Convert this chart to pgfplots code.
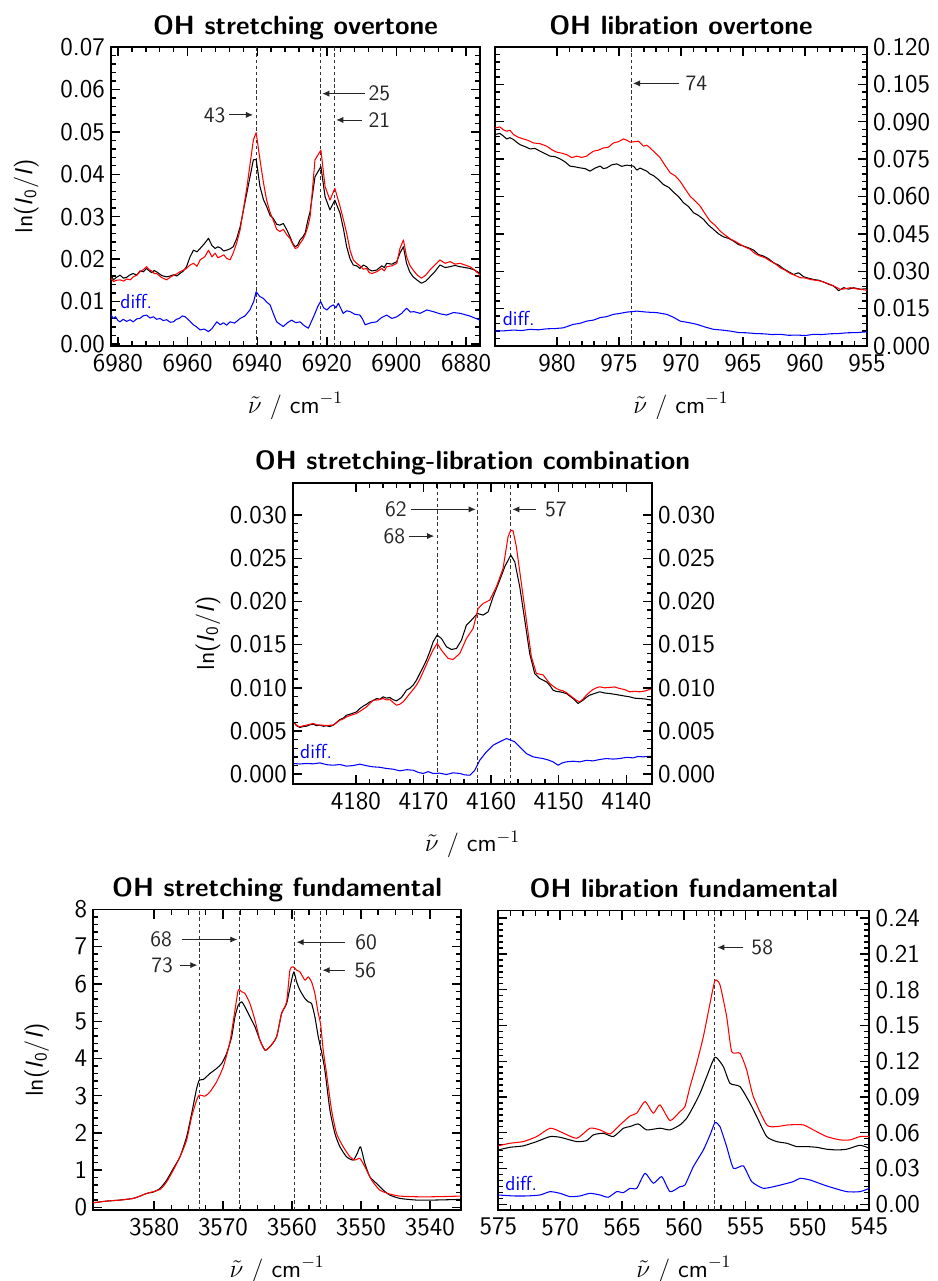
\documentclass[border=0pt]{standalone}
\usepackage{pgfplots}
\pgfplotsset{compat=1.18}
\usetikzlibrary{arrows.meta}

\pgfplotsset{
  spec/.style={
    scale only axis, anchor=north west, x dir=reverse,
    axis line style={line width=1.1pt},
    every tick/.style={black, line width=0.8pt},
    major tick length=0.18cm, minor tick length=0.1cm,
    tick align=inside, xtick pos=both, ytick pos=both, xticklabel pos=lower,
    tick label style={font=\sffamily\fontsize{14.5}{16}\selectfont},
    xticklabel style={yshift=-0.04cm},
    scaled ticks=false,
    /pgf/number format/assume math mode=true,
    /pgf/number format/1000 sep={},
    every axis title/.style={at={(0.5,1)}, anchor=base, yshift=0.26cm,
      font=\sffamily\bfseries\fontsize{15}{18}\selectfont},
    every axis x label/.style={at={(0.5,0)}, anchor=base, yshift=-1.34cm,
      font=\sffamily\fontsize{14}{16}\selectfont},
    xlabel={$\tilde{\nu}$ / cm$^{-1}$},
  },
  ylab/.style={
    every axis y label/.style={at={(axis description cs:#1,0.5)}, rotate=90,
      anchor=center, font=\sffamily\fontsize{14}{16}\selectfont},
    ylabel={ln(\textit{I}\textsubscript{0}/\textit{I})},
  },
  blk/.style={black, line width=0.6pt, line join=round},
  rd/.style={red, line width=0.6pt, line join=round},
  bl/.style={blue, line width=0.6pt, line join=round},
  sm/.style={smooth, tension=0.35},
  vl/.style={black!80, line width=0.5pt, dash pattern=on 2pt off 1.5pt},
}
\tikzset{
  arr/.style={black!85, line width=0.5pt, -{Latex[length=4pt,width=3.5pt]}},
  ann/.style={black!85, font=\sffamily\fontsize{12.5}{14}\selectfont, inner sep=1pt},
  dif/.style={blue, anchor=west, font=\sffamily\fontsize{11.5}{13}\selectfont, inner sep=0pt},
}

\begin{document}
\begin{tikzpicture}
\path[use as bounding box] (0,0) rectangle (18.76,-25.62);

% ---------------- OH stretching overtone
\begin{axis}[spec, ylab=-0.23, at={(2.22cm,-0.94cm)}, width=7.38cm, height=5.98cm,
  xmin=6876, xmax=6982, ymin=-0.0005, ymax=0.07,
  xtick={6880,6900,6920,6940,6960,6980}, minor x tick num=4,
  ytick={0,0.01,0.02,0.03,0.04,0.05,0.06,0.07}, minor y tick num=4,
  yticklabel style={/pgf/number format/.cd, fixed, fixed zerofill, precision=2},
  title={OH stretching overtone}]
\addplot[vl] coordinates {(6940.3,-0.0005) (6940.3,0.07)};
\addplot[vl] coordinates {(6921.7,-0.0005) (6921.7,0.07)};
\addplot[vl] coordinates {(6917.7,-0.0005) (6917.7,0.07)};
\addplot[blk] coordinates {
(6982.0,0.0162) (6981.3,0.0151) (6980.4,0.0157) (6979.4,0.0162) (6978.4,0.0155) (6977.5,0.0157)
(6976.5,0.0163) (6975.6,0.0166) (6974.6,0.0162) (6973.7,0.0172) (6972.7,0.0170) (6971.8,0.0178)
(6971.0,0.0172) (6970.3,0.0168) (6969.6,0.0173) (6968.9,0.0170) (6967.4,0.0161) (6966.0,0.0158)
(6965.0,0.0160) (6964.0,0.0163) (6963.1,0.0160) (6962.2,0.0166) (6961.2,0.0172) (6960.3,0.0182)
(6959.3,0.0205) (6958.3,0.0221) (6957.3,0.0217) (6956.4,0.0225) (6955.0,0.0238) (6954.0,0.0249)
(6953.0,0.0232) (6952.1,0.0225) (6951.3,0.0229) (6950.5,0.0226) (6949.6,0.0219) (6948.8,0.0221)
(6947.8,0.0224) (6946.9,0.0229) (6945.9,0.0248) (6944.9,0.0276) (6943.0,0.0355) (6941.1,0.0434)
(6940.3,0.0435) (6939.2,0.0371) (6938.2,0.0340) (6937.3,0.0324) (6936.3,0.0303) (6935.4,0.0296)
(6934.4,0.0282) (6933.5,0.0280) (6932.5,0.0284) (6931.5,0.0269) (6930.6,0.0253) (6929.8,0.0237)
(6929.1,0.0229) (6928.4,0.0233) (6927.7,0.0245) (6926.9,0.0252) (6926.2,0.0262) (6925.5,0.0290)
(6924.8,0.0312) (6923.4,0.0394) (6921.7,0.0418) (6920.5,0.0347) (6919.1,0.0316) (6917.7,0.0339)
(6916.2,0.0308) (6915.2,0.0270) (6914.3,0.0229) (6913.3,0.0200) (6912.4,0.0186) (6911.4,0.0184)
(6910.5,0.0178) (6909.5,0.0186) (6908.6,0.0182) (6907.8,0.0175) (6907.0,0.0172) (6905.7,0.0174)
(6904.2,0.0184) (6903.5,0.0180) (6902.8,0.0190) (6901.3,0.0188) (6899.9,0.0194) (6899.0,0.0214)
(6898.0,0.0229) (6897.1,0.0190) (6896.2,0.0170) (6895.2,0.0158) (6894.0,0.0150) (6892.8,0.0143)
(6891.6,0.0148) (6890.4,0.0158) (6889.0,0.0170) (6887.5,0.0186) (6886.0,0.0180) (6884.6,0.0182)
(6883.2,0.0185) (6881.7,0.0182) (6880.3,0.0180) (6878.9,0.0178) (6877.5,0.0174) (6876.0,0.0166)};
\addplot[rd] coordinates {
(6982.0,0.0155) (6981.3,0.0147) (6980.4,0.0150) (6979.4,0.0151) (6978.4,0.0148) (6977.5,0.0153)
(6976.5,0.0151) (6975.6,0.0158) (6974.6,0.0162) (6973.7,0.0170) (6972.7,0.0175) (6971.8,0.0182)
(6971.0,0.0175) (6970.3,0.0172) (6969.6,0.0166) (6968.9,0.0166) (6967.4,0.0156) (6966.0,0.0151)
(6965.0,0.0157) (6964.0,0.0162) (6963.1,0.0165) (6962.2,0.0170) (6961.2,0.0174) (6960.3,0.0178)
(6959.3,0.0186) (6958.3,0.0190) (6957.3,0.0183) (6956.4,0.0198) (6955.0,0.0206) (6954.0,0.0221)
(6953.0,0.0205) (6952.1,0.0214) (6951.3,0.0203) (6950.5,0.0206) (6949.6,0.0210) (6948.8,0.0202)
(6947.8,0.0198) (6946.9,0.0214) (6945.9,0.0238) (6944.9,0.0269) (6943.0,0.0367) (6941.1,0.0481)
(6940.3,0.0498) (6939.2,0.0434) (6938.2,0.0380) (6937.3,0.0339) (6936.3,0.0310) (6935.4,0.0292)
(6934.4,0.0270) (6933.5,0.0265) (6932.5,0.0270) (6931.5,0.0257) (6930.6,0.0249) (6929.8,0.0235)
(6929.1,0.0225) (6928.4,0.0227) (6927.7,0.0237) (6926.9,0.0246) (6926.2,0.0258) (6925.5,0.0275)
(6924.8,0.0300) (6923.4,0.0434) (6921.7,0.0457) (6920.5,0.0371) (6919.1,0.0339) (6917.7,0.0367)
(6916.2,0.0324) (6915.2,0.0292) (6914.3,0.0261) (6913.3,0.0220) (6912.4,0.0198) (6911.4,0.0190)
(6910.5,0.0184) (6909.5,0.0176) (6908.6,0.0178) (6907.8,0.0168) (6907.0,0.0166) (6905.7,0.0170)
(6904.2,0.0178) (6903.5,0.0172) (6902.8,0.0182) (6901.3,0.0184) (6899.9,0.0190) (6899.0,0.0225)
(6898.0,0.0245) (6897.1,0.0206) (6896.2,0.0186) (6895.2,0.0174) (6894.0,0.0162) (6892.8,0.0155)
(6891.6,0.0162) (6890.4,0.0174) (6889.0,0.0186) (6887.5,0.0198) (6886.0,0.0190) (6884.6,0.0194)
(6883.2,0.0188) (6881.7,0.0190) (6880.3,0.0186) (6878.9,0.0182) (6877.5,0.0174) (6876.0,0.0162)};
\addplot[bl] coordinates {
(6982.0,0.0068) (6981.3,0.0060) (6980.7,0.0064) (6980.0,0.0055) (6979.4,0.0052) (6978.5,0.0058)
(6977.5,0.0053) (6976.5,0.0057) (6975.6,0.0052) (6974.6,0.0059) (6973.7,0.0060) (6972.8,0.0066)
(6971.8,0.0068) (6970.8,0.0061) (6969.8,0.0064) (6968.9,0.0058) (6967.9,0.0060) (6967.0,0.0055)
(6966.0,0.0057) (6965.0,0.0051) (6964.1,0.0052) (6963.2,0.0058) (6962.4,0.0060) (6961.5,0.0066)
(6960.7,0.0064) (6959.5,0.0055) (6958.3,0.0045) (6957.4,0.0040) (6956.4,0.0033) (6955.2,0.0035)
(6954.0,0.0029) (6953.0,0.0036) (6951.6,0.0052) (6950.6,0.0045) (6949.7,0.0050) (6948.8,0.0044)
(6947.8,0.0052) (6946.5,0.0049) (6944.9,0.0060) (6943.5,0.0066) (6942.1,0.0080) (6941.0,0.0100)
(6940.3,0.0123) (6939.3,0.0112) (6938.2,0.0107) (6937.2,0.0098) (6936.3,0.0092) (6935.3,0.0070)
(6934.4,0.0052) (6933.4,0.0046) (6932.5,0.0041) (6931.3,0.0050) (6930.1,0.0056) (6928.9,0.0050)
(6927.7,0.0052) (6926.5,0.0043) (6925.3,0.0037) (6924.3,0.0055) (6923.4,0.0072) (6922.6,0.0088)
(6921.8,0.0100) (6920.9,0.0085) (6920.0,0.0080) (6919.0,0.0088) (6918.1,0.0092) (6917.4,0.0085)
(6916.7,0.0096) (6916.0,0.0084) (6915.3,0.0072) (6914.3,0.0078) (6913.3,0.0076) (6912.0,0.0070)
(6910.5,0.0068) (6909.7,0.0058) (6909.0,0.0045) (6907.3,0.0050) (6905.7,0.0052) (6904.3,0.0062)
(6902.8,0.0068) (6901.3,0.0060) (6899.9,0.0064) (6898.5,0.0072) (6897.1,0.0084) (6896.0,0.0075)
(6895.0,0.0076) (6893.2,0.0072) (6891.3,0.0080) (6889.4,0.0076) (6887.5,0.0071) (6885.6,0.0068)
(6883.6,0.0074) (6881.7,0.0072) (6879.0,0.0066) (6877.5,0.0061) (6876.0,0.0056)};
\draw[arr] (axis cs:6948.1,0.0540) -- (axis cs:6941.2,0.0540);
\node[ann, anchor=east] at (axis cs:6948.5,0.0540) {43};
\draw[arr] (axis cs:6909.0,0.0590) -- (axis cs:6921.3,0.0590);
\node[ann, anchor=west] at (axis cs:6908.6,0.0590) {25};
\draw[arr] (axis cs:6909.9,0.0528) -- (axis cs:6917.3,0.0528);
\node[ann, anchor=west] at (axis cs:6908.6,0.0528) {21};
\node[dif] at (axis cs:6979.4,0.0099) {diff.};
\end{axis}

% ---------------- OH libration overtone
\begin{axis}[spec, at={(9.90cm,-0.94cm)}, width=7.44cm, height=5.98cm,
  xmin=955, xmax=985, ymin=0, ymax=0.12,
  xtick={955,960,965,970,975,980}, minor x tick num=4,
  ytick={0,0.015,0.03,0.045,0.06,0.075,0.09,0.105,0.12}, minor y tick num=4,
  yticklabel pos=right,
  yticklabel style={/pgf/number format/.cd, fixed, fixed zerofill, precision=3},
  title={OH libration overtone}]
\addplot[vl] coordinates {(974.0,0) (974.0,0.12)};
\addplot[blk] coordinates {
(985.00,0.0849) (984.60,0.0853) (984.33,0.0843) (984.06,0.0831) (983.79,0.0836) (983.52,0.0829)
(983.25,0.0818) (982.98,0.0808) (982.57,0.0800) (982.17,0.0791) (981.77,0.0793) (981.37,0.0782)
(980.96,0.0772) (980.56,0.0762) (980.16,0.0760) (979.75,0.0751) (979.35,0.0739) (978.95,0.0722)
(978.55,0.0719) (978.14,0.0715) (977.74,0.0712) (977.33,0.0702) (976.93,0.0714) (976.52,0.0722)
(976.26,0.0712) (975.99,0.0715) (975.59,0.0727) (975.18,0.0731) (974.78,0.0721) (974.37,0.0726)
(973.83,0.0722) (973.56,0.0706) (973.30,0.0714) (972.76,0.0702) (972.49,0.0690) (972.22,0.0684)
(971.82,0.0668) (971.41,0.0648) (971.00,0.0637) (970.60,0.0617) (970.20,0.0600) (969.80,0.0575)
(969.40,0.0560) (968.99,0.0535) (968.59,0.0524) (968.18,0.0508) (967.78,0.0485) (967.38,0.0468)
(966.97,0.0450) (966.57,0.0438) (966.17,0.0432) (965.76,0.0421) (965.36,0.0407) (964.96,0.0401)
(964.55,0.0394) (964.15,0.0385) (963.74,0.0367) (963.34,0.0361) (962.94,0.0350) (962.53,0.0334)
(962.13,0.0325) (961.73,0.0310) (961.32,0.0298) (960.92,0.0287) (960.52,0.0294) (960.11,0.0278)
(959.71,0.0272) (959.30,0.0267) (958.90,0.0264) (958.50,0.0257) (958.10,0.0248) (957.69,0.0241)
(957.29,0.0222) (956.88,0.0234) (956.48,0.0228) (956.08,0.0234) (955.54,0.0228) (955.00,0.0230)};
\addplot[rd] coordinates {
(985.00,0.0875) (984.60,0.0879) (984.33,0.0868) (984.06,0.0862) (983.79,0.0866) (983.52,0.0849)
(983.12,0.0838) (982.71,0.0831) (982.31,0.0825) (981.91,0.0815) (981.37,0.0812) (980.83,0.0802)
(980.43,0.0788) (980.02,0.0778) (979.62,0.0774) (979.22,0.0768) (978.81,0.0756) (978.41,0.0762)
(978.01,0.0757) (977.60,0.0762) (977.33,0.0773) (977.06,0.0782) (976.66,0.0786) (976.26,0.0795)
(975.85,0.0798) (975.45,0.0815) (975.04,0.0820) (974.64,0.0831) (974.37,0.0826) (974.10,0.0818)
(973.76,0.0820) (973.43,0.0822) (973.03,0.0802) (972.76,0.0806) (972.49,0.0795) (972.08,0.0775)
(971.68,0.0755) (971.27,0.0724) (970.87,0.0695) (970.47,0.0683) (970.07,0.0661) (969.66,0.0630)
(969.26,0.0601) (968.86,0.0582) (968.45,0.0561) (968.05,0.0530) (967.65,0.0501) (967.24,0.0484)
(966.84,0.0461) (966.44,0.0445) (966.03,0.0430) (965.63,0.0420) (965.22,0.0408) (964.82,0.0397)
(964.42,0.0388) (964.01,0.0370) (963.61,0.0361) (963.20,0.0354) (962.80,0.0341) (962.40,0.0330)
(962.00,0.0314) (961.59,0.0304) (961.19,0.0291) (960.78,0.0283) (960.38,0.0274) (959.98,0.0273)
(959.57,0.0267) (959.17,0.0264) (958.77,0.0261) (958.36,0.0254) (957.96,0.0247) (957.56,0.0238)
(957.15,0.0227) (956.75,0.0230) (956.34,0.0234) (955.67,0.0228) (955.00,0.0224)};
\addplot[bl] coordinates {
(985.00,0.0060) (984.26,0.0061) (983.52,0.0064) (982.84,0.0062) (982.17,0.0067) (981.50,0.0065)
(980.83,0.0069) (980.15,0.0070) (979.48,0.0073) (978.68,0.0087) (978.14,0.0091) (977.60,0.0100)
(977.06,0.0104) (976.52,0.0114) (975.99,0.0118) (975.45,0.0127) (974.91,0.0131) (974.37,0.0136)
(973.56,0.0140) (972.76,0.0136) (971.95,0.0134) (971.14,0.0127) (970.60,0.0115) (970.07,0.0100)
(969.39,0.0094) (968.72,0.0087) (968.05,0.0076) (967.38,0.0067) (966.70,0.0064) (966.03,0.0060)
(965.36,0.0054) (964.69,0.0053) (964.01,0.0050) (963.34,0.0049) (962.67,0.0046) (962.00,0.0047)
(961.32,0.0043) (960.65,0.0044) (959.98,0.0042) (959.30,0.0047) (958.63,0.0046) (957.96,0.0049)
(957.29,0.0050) (956.61,0.0053) (955.81,0.0054) (955.00,0.0057)};
\draw[arr] (axis cs:970.16,0.1054) -- (axis cs:973.87,0.1054);
\node[ann, anchor=west] at (axis cs:969.8,0.1054) {74};
\node[dif] at (axis cs:984.4,0.0110) {diff.};
\end{axis}

% ---------------- OH stretching-libration combination
\begin{axis}[spec, ylab=-0.237, at={(5.86cm,-9.654cm)}, width=7.18cm, height=6.03cm,
  xmin=4136.2, xmax=4189.3, ymin=-0.00116, ymax=0.03375,
  xtick={4140,4150,4160,4170,4180}, minor x tick num=4,
  ytick={0,0.005,0.01,0.015,0.02,0.025,0.03}, minor y tick num=4,
  yticklabel style={/pgf/number format/.cd, fixed, fixed zerofill, precision=3},
  title={OH stretching-libration combination}]
\addplot[vl] coordinates {(4168.0,-0.00116) (4168.0,0.03375)};
\addplot[vl] coordinates {(4162.0,-0.00116) (4162.0,0.03375)};
\addplot[vl] coordinates {(4157.1,-0.00116) (4157.1,0.03375)};
\addplot[blk] coordinates {
(4189.26,0.00606) (4188.77,0.00560) (4188.28,0.00541) (4187.78,0.00552) (4187.29,0.00556)
(4186.80,0.00572) (4186.31,0.00579) (4185.81,0.00562) (4185.32,0.00568) (4184.83,0.00555)
(4184.33,0.00560) (4183.84,0.00552) (4183.35,0.00568) (4182.86,0.00600) (4182.36,0.00633)
(4181.87,0.00648) (4181.38,0.00683) (4180.64,0.00700) (4179.90,0.00722) (4179.41,0.00760)
(4178.92,0.00788) (4178.42,0.00810) (4177.93,0.00838) (4177.44,0.00852) (4176.95,0.00876)
(4176.45,0.00868) (4175.96,0.00896) (4175.47,0.00880) (4174.98,0.00888) (4174.48,0.00862)
(4173.99,0.00849) (4173.25,0.00888) (4172.51,0.00973) (4172.02,0.00995) (4171.53,0.01031)
(4171.03,0.01090) (4170.54,0.01166) (4170.05,0.01240) (4169.56,0.01320) (4169.06,0.01420)
(4168.57,0.01533) (4167.98,0.01610) (4167.34,0.01571) (4166.60,0.01475) (4165.86,0.01444)
(4165.12,0.01456) (4164.38,0.01552) (4163.65,0.01726) (4162.91,0.01784) (4162.02,0.01861)
(4161.18,0.01842) (4160.44,0.01880) (4159.70,0.02054) (4158.72,0.02247) (4157.98,0.02402)
(4157.09,0.02537) (4156.50,0.02459) (4155.76,0.02170) (4155.02,0.01784) (4154.29,0.01398)
(4153.55,0.01166) (4152.81,0.01108) (4151.82,0.01069) (4151.33,0.01030) (4150.84,0.00973)
(4150.34,0.00958) (4149.85,0.00954) (4149.36,0.00945) (4148.87,0.00934) (4148.37,0.00905)
(4147.88,0.00876) (4147.14,0.00819) (4146.40,0.00857) (4145.91,0.00890) (4145.42,0.00915)
(4144.68,0.00935) (4143.94,0.00954) (4143.20,0.00940) (4142.46,0.00934) (4141.72,0.00925)
(4140.99,0.00915) (4140.25,0.00905) (4139.51,0.00896) (4138.77,0.00880) (4138.03,0.00876)
(4137.12,0.00870) (4136.21,0.00857)};
\addplot[rd] coordinates {
(4189.26,0.00606) (4188.77,0.00566) (4188.28,0.00548) (4187.78,0.00560) (4187.29,0.00568)
(4186.80,0.00578) (4186.31,0.00587) (4185.81,0.00572) (4185.32,0.00568) (4184.33,0.00565)
(4183.35,0.00568) (4182.86,0.00595) (4182.36,0.00625) (4181.87,0.00640) (4181.38,0.00664)
(4180.64,0.00685) (4179.90,0.00703) (4179.16,0.00740) (4178.42,0.00780) (4177.93,0.00820)
(4177.44,0.00857) (4176.70,0.00860) (4175.96,0.00876) (4175.47,0.00860) (4174.98,0.00865)
(4174.48,0.00830) (4173.99,0.00799) (4173.50,0.00810) (4173.00,0.00838) (4172.51,0.00885)
(4172.02,0.00934) (4171.53,0.00980) (4171.03,0.01031) (4170.54,0.01100) (4170.05,0.01185)
(4169.56,0.01270) (4169.06,0.01359) (4168.57,0.01440) (4167.98,0.01514) (4167.34,0.01436)
(4166.35,0.01340) (4165.62,0.01328) (4164.63,0.01398) (4163.65,0.01571) (4162.66,0.01687)
(4161.92,0.01919) (4161.18,0.01977) (4160.20,0.02015) (4159.21,0.02170) (4158.23,0.02382)
(4157.49,0.02749) (4157.09,0.02826) (4156.75,0.02819) (4156.26,0.02633) (4155.52,0.02208)
(4154.78,0.01784) (4154.04,0.01359) (4153.30,0.01166) (4152.32,0.01150) (4151.82,0.01100)
(4151.33,0.01050) (4150.84,0.01020) (4150.34,0.00992) (4149.85,0.00975) (4149.36,0.00965)
(4148.87,0.00945) (4148.37,0.00915) (4147.88,0.00885) (4147.39,0.00857) (4146.90,0.00838)
(4146.40,0.00870) (4145.91,0.00915) (4145.42,0.00950) (4144.93,0.00981) (4144.43,0.01000)
(4143.94,0.01012) (4143.20,0.01000) (4142.46,0.01004) (4141.72,0.01010) (4140.99,0.00992)
(4140.25,0.00980) (4139.51,0.00954) (4138.77,0.00960) (4138.03,0.00954) (4137.12,0.00965)
(4136.21,0.00992)};
\addplot[bl] coordinates {
(4189.26,0.00124) (4188.28,0.00118) (4187.29,0.00124) (4186.31,0.00120) (4185.32,0.00131)
(4184.33,0.00110) (4183.35,0.00104) (4182.36,0.00112) (4181.38,0.00093) (4180.40,0.00100)
(4179.41,0.00116) (4178.42,0.00098) (4177.44,0.00085) (4176.45,0.00080) (4175.47,0.00066)
(4174.48,0.00058) (4173.50,0.00039) (4172.51,0.00052) (4171.53,0.00046) (4170.79,0.00022)
(4170.05,0.00008) (4169.31,0.00030) (4168.57,0.00008) (4167.59,0.00012) (4166.60,-0.00004)
(4165.62,0.00016) (4164.63,0.00008) (4163.89,-0.00008) (4163.15,-0.00012) (4162.41,0.00046)
(4161.67,0.00162) (4160.69,0.00259) (4159.70,0.00336) (4158.72,0.00375) (4157.73,0.00413)
(4157.09,0.00394) (4156.50,0.00375) (4155.76,0.00317) (4154.78,0.00239) (4153.79,0.00201)
(4153.05,0.00190) (4152.32,0.00181) (4151.58,0.00165) (4150.84,0.00143) (4150.10,0.00104)
(4149.49,0.00130) (4148.87,0.00143) (4147.88,0.00150) (4146.90,0.00143) (4145.91,0.00160)
(4144.93,0.00154) (4143.94,0.00170) (4142.96,0.00181) (4141.97,0.00175) (4140.99,0.00181)
(4140.00,0.00195) (4139.01,0.00189) (4138.28,0.00205) (4137.54,0.00201) (4136.21,0.00208)};
\draw[arr] (axis cs:4171.92,0.03066) -- (axis cs:4162.27,0.03066);
\node[ann, anchor=east] at (axis cs:4172.17,0.03066) {62};
\draw[arr] (axis cs:4172.12,0.02757) -- (axis cs:4168.42,0.02757);
\node[ann, anchor=east] at (axis cs:4172.41,0.02757) {68};
\draw[arr] (axis cs:4153.30,0.03066) -- (axis cs:4156.85,0.03066);
\node[ann, anchor=west] at (axis cs:4152.32,0.03066) {57};
\node[dif] at (axis cs:4188.28,0.00259) {diff.};
\end{axis}
\begin{axis}[spec, at={(5.86cm,-9.654cm)}, width=7.18cm, height=6.03cm,
  xmin=4136.2, xmax=4189.3, ymin=-0.00116, ymax=0.03375,
  xtick={4140,4150,4160,4170,4180}, xticklabels={}, xlabel={}, minor x tick num=4,
  ytick={0,0.005,0.01,0.015,0.02,0.025,0.03}, minor y tick num=4,
  yticklabel pos=right,
  yticklabel style={/pgf/number format/.cd, fixed, fixed zerofill, precision=3}]
\end{axis}

% ---------------- OH stretching fundamental
\begin{axis}[spec, ylab=-0.154, at={(1.867cm,-18.19cm)}, width=7.35cm, height=6.01cm,
  xmin=3535.5, xmax=3588.8, ymin=-0.07, ymax=8,
  xtick={3540,3550,3560,3570,3580}, minor x tick num=3,
  ytick={0,1,2,3,4,5,6,7,8}, minor y tick num=4,
  title={OH stretching fundamental}]
\addplot[vl] coordinates {(3573.4,-0.07) (3573.4,8)};
\addplot[vl] coordinates {(3567.6,-0.07) (3567.6,8)};
\addplot[vl] coordinates {(3559.7,-0.07) (3559.7,8)};
\addplot[vl] coordinates {(3555.8,-0.07) (3555.8,8)};
\addplot[blk, sm] coordinates {
(3588.79,0.125) (3586.86,0.170) (3584.93,0.197) (3583.00,0.242) (3582.03,0.304) (3581.06,0.376)
(3580.10,0.412) (3579.13,0.510) (3578.16,0.734) (3577.20,1.047) (3576.23,1.360) (3575.27,1.897)
(3574.54,2.523) (3573.82,3.195) (3573.43,3.418) (3572.85,3.436) (3571.88,3.597) (3570.92,3.732)
(3570.19,3.866) (3569.47,4.134) (3568.74,4.582) (3568.26,5.119) (3567.78,5.432) (3567.29,5.521)
(3566.81,5.387) (3566.09,5.119) (3565.36,4.850) (3564.64,4.492) (3563.91,4.224) (3563.19,4.313)
(3562.22,4.582) (3561.50,5.208) (3560.77,5.477) (3560.05,6.103) (3559.71,6.327) (3559.32,6.058)
(3558.84,5.834) (3558.12,5.611) (3557.63,5.521) (3557.15,5.477) (3556.67,5.119) (3556.18,4.582)
(3555.70,4.179) (3555.22,3.687) (3554.49,2.613) (3553.77,1.987) (3553.04,1.629) (3552.08,1.360)
(3551.11,1.271) (3550.53,1.450) (3550.05,1.629) (3549.42,1.181) (3548.70,0.823) (3547.73,0.644)
(3546.76,0.465) (3545.80,0.331) (3544.35,0.242) (3541.93,0.197) (3539.52,0.197) (3535.51,0.215)};
\addplot[rd, sm] coordinates {
(3588.79,0.125) (3586.86,0.170) (3584.93,0.197) (3583.00,0.242) (3582.03,0.304) (3581.06,0.376)
(3579.13,0.483) (3578.16,0.689) (3577.20,1.002) (3576.23,1.360) (3575.27,1.808) (3574.54,2.434)
(3573.82,2.881) (3573.43,3.016) (3572.61,2.989) (3571.88,3.105) (3570.92,3.374) (3569.95,3.776)
(3568.99,4.447) (3568.26,5.298) (3567.78,5.834) (3567.29,5.790) (3566.81,5.745) (3566.09,5.477)
(3565.36,5.029) (3564.64,4.492) (3563.91,4.224) (3563.19,4.313) (3562.22,4.582) (3561.50,5.208)
(3560.77,5.521) (3560.29,6.371) (3559.81,6.461) (3559.32,6.371) (3558.84,6.327) (3558.12,6.103)
(3557.63,6.192) (3557.15,6.058) (3556.67,5.745) (3556.18,5.208) (3555.85,4.940) (3555.46,4.224)
(3554.98,3.597) (3554.25,2.613) (3553.53,1.987) (3552.56,1.629) (3551.59,1.360) (3550.87,1.271)
(3550.14,1.315) (3549.42,1.092) (3548.45,0.734) (3547.25,0.465) (3545.80,0.358) (3544.35,0.304)
(3541.93,0.286) (3539.52,0.286) (3535.51,0.304)};
\draw[arr] (axis cs:3575.99,7.195) -- (axis cs:3567.92,7.195);
\node[ann, anchor=east] at (axis cs:3577.10,7.195) {68};
\draw[arr] (axis cs:3576.23,6.506) -- (axis cs:3573.72,6.506);
\node[ann, anchor=east] at (axis cs:3576.96,6.506) {73};
\draw[arr] (axis cs:3552.32,7.123) -- (axis cs:3559.32,7.123);
\node[ann, anchor=west] at (axis cs:3551.11,7.123) {60};
\draw[arr] (axis cs:3552.32,6.371) -- (axis cs:3555.56,6.371);
\node[ann, anchor=west] at (axis cs:3551.21,6.371) {56};
\end{axis}

% ---------------- OH libration fundamental
\begin{axis}[spec, at={(9.967cm,-18.21cm)}, width=7.42cm, height=5.99cm,
  xmin=545, xmax=575, ymin=-0.0048, ymax=0.2464,
  xtick={545,550,555,560,565,570,575}, minor x tick num=4,
  ytick={0,0.03,0.06,0.09,0.12,0.15,0.18,0.21,0.24}, minor y tick num=5,
  yticklabel pos=right,
  yticklabel style={/pgf/number format/.cd, fixed, fixed zerofill, precision=2},
  title={OH libration fundamental}]
\addplot[vl] coordinates {(557.53,-0.0048) (557.53,0.2464)};
\addplot[blk, sm] coordinates {
(575.00,0.0456) (574.06,0.0478) (572.98,0.0490) (571.90,0.0526) (570.82,0.0568) (570.01,0.0562)
(568.67,0.0526) (567.86,0.0534) (567.32,0.0582) (566.51,0.0596) (565.70,0.0568) (564.89,0.0638)
(564.35,0.0652) (563.68,0.0674) (563.01,0.0624) (561.93,0.0638) (561.12,0.0624) (560.31,0.0666)
(559.77,0.0722) (559.23,0.0820) (558.69,0.0931) (558.15,0.1071) (557.48,0.1234) (556.81,0.1155)
(556.27,0.1015) (555.46,0.0987) (554.65,0.0848) (554.11,0.0736) (553.30,0.0568) (552.49,0.0526)
(551.68,0.0512) (550.88,0.0484) (550.07,0.0484) (549.26,0.0478) (548.45,0.0462) (547.64,0.0456)
(546.83,0.0462) (545.76,0.0495) (545.00,0.0470)};
\addplot[rd, sm] coordinates {
(575.00,0.0490) (574.06,0.0512) (572.98,0.0526) (571.90,0.0568) (570.82,0.0638) (570.01,0.0610)
(568.67,0.0554) (567.59,0.0638) (566.78,0.0624) (565.97,0.0590) (565.16,0.0666) (564.35,0.0741)
(563.81,0.0764) (563.14,0.0862) (562.47,0.0764) (561.93,0.0834) (561.12,0.0702) (560.31,0.0778)
(559.91,0.0820) (559.50,0.0987) (558.96,0.1183) (558.42,0.1407) (557.88,0.1687) (557.48,0.1877)
(557.08,0.1841) (556.54,0.1575) (556.13,0.1281) (555.46,0.1267) (554.92,0.1127) (554.38,0.0903)
(553.30,0.0666) (552.49,0.0652) (551.55,0.0666) (550.34,0.0666) (549.53,0.0624) (548.45,0.0568)
(547.37,0.0540) (546.56,0.0540) (545.76,0.0568) (545.00,0.0568)};
\addplot[bl, sm] coordinates {
(575.00,0.0078) (573.79,0.0070) (572.71,0.0070) (571.63,0.0078) (570.82,0.0106) (570.01,0.0092)
(569.20,0.0064) (568.40,0.0070) (567.59,0.0092) (566.78,0.0078) (566.11,0.0059) (565.43,0.0106)
(564.89,0.0098) (564.35,0.0134) (563.81,0.0134) (563.14,0.0260) (562.47,0.0176) (561.79,0.0232)
(561.12,0.0106) (560.31,0.0148) (559.91,0.0162) (559.23,0.0316) (558.42,0.0456) (557.88,0.0582)
(557.48,0.0685) (557.08,0.0652) (556.54,0.0484) (555.99,0.0302) (555.19,0.0322) (554.51,0.0190)
(553.57,0.0134) (552.49,0.0154) (551.15,0.0190) (550.61,0.0218) (549.80,0.0204) (548.45,0.0154)
(546.83,0.0106) (545.76,0.0106) (545.00,0.0134)};
\draw[arr] (axis cs:555.19,0.2154) -- (axis cs:557.29,0.2154);
\node[ann, anchor=west] at (axis cs:554.70,0.2154) {58};
\node[dif] at (axis cs:574.46,0.0176) {diff.};
\end{axis}
\end{tikzpicture}
\end{document}
